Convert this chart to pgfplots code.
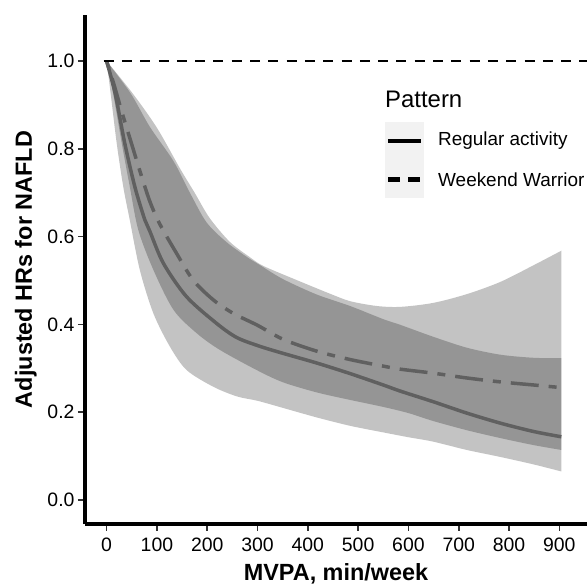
\documentclass[border=0pt]{standalone}
\usepackage{fontspec}
\setmainfont{Liberation Sans}
\usepackage{pgfplots}
\usepackage{pgfplotstable}
\pgfplotsset{compat=1.18}
\usepgfplotslibrary{fillbetween}
\definecolor{linegray}{RGB}{96,96,96}
\definecolor{keybg}{RGB}{242,242,242}
\begin{document}
% Regular activity: upper / lower CI and estimate
\pgfplotstableread{
x y
0 1.000
48 0.926
86 0.850
133 0.772
166 0.699
199 0.632
240 0.586
285 0.549
305 0.535
351 0.503
418 0.468
484 0.442
550 0.412
584 0.399
649 0.372
716 0.347
783 0.331
849 0.324
904 0.323
}\RU
\pgfplotstableread{
x y
0 1.000
8 0.926
20 0.813
33 0.714
46 0.638
66 0.524
93 0.425
126 0.349
159 0.296
212 0.258
259 0.236
300 0.226
350 0.210
418 0.188
484 0.169
550 0.154
600 0.143
649 0.133
716 0.114
783 0.098
849 0.081
904 0.065
}\RL
\pgfplotstableread{
x y
0 1.000
17 0.926
36 0.813
56 0.714
76 0.638
86 0.612
113 0.539
159 0.463
219 0.402
259 0.370
305 0.350
351 0.334
418 0.312
484 0.288
550 0.262
584 0.248
649 0.224
716 0.198
783 0.175
849 0.156
904 0.144
}\RE
% Weekend Warrior: upper / lower CI and estimate
\pgfplotstableread{
x y
0 1.000
52 0.926
100 0.848
146 0.755
175 0.700
205 0.642
245 0.588
285 0.553
312 0.533
378 0.501
444 0.470
484 0.453
537 0.442
584 0.440
649 0.449
716 0.469
783 0.497
849 0.535
904 0.568
}\WU
\pgfplotstableread{
x y
0 1.000
13 0.926
30 0.813
46 0.714
63 0.615
93 0.524
133 0.433
179 0.380
225 0.342
300 0.295
351 0.268
418 0.245
484 0.228
550 0.212
600 0.198
649 0.180
716 0.159
783 0.141
849 0.125
904 0.114
}\WL
\pgfplotstableread{
x y
0 1.000
15 0.945
30 0.885
50 0.810
66 0.750
86 0.680
106 0.628
139 0.562
172 0.501
212 0.456
252 0.425
300 0.398
351 0.366
418 0.339
484 0.320
550 0.305
584 0.298
649 0.289
716 0.278
783 0.269
849 0.262
904 0.256
}\WE
\begin{tikzpicture}
\begin{axis}[
  at={(0,0)}, anchor=south west,
  width=502bp, height=509bp, scale only axis,
  xmin=-43, xmax=955, ymin=-0.0547, ymax=1.105,
  axis x line=bottom, axis y line=left,
  axis line style={line width=4bp, -},
  xtick={0,100,200,300,400,500,600,700,800,900},
  ytick={0,0.2,0.4,0.6,0.8,1.0},
  minor tick num=0,
  tick align=outside,
  major tick length=7bp,
  tick style={line width=1.6bp, color=black!80},
  /pgf/number format/assume math mode=true,
  ticklabel style={font=\fontsize{19.5}{22}\selectfont, text=black},
  yticklabel style={/pgf/number format/.cd, fixed, fixed zerofill, precision=1},
  xticklabel style={yshift=-3bp, /pgf/number format/.cd, fixed, precision=0, 1000 sep={}},
  xlabel={MVPA, min/week},
  ylabel={Adjusted HRs for NAFLD},
  xlabel style={font=\bfseries\fontsize{23.5}{26}\selectfont, at={(axis description cs:0.5,0)}, anchor=base, yshift=-56bp},
  ylabel style={font=\bfseries\fontsize{23.5}{26}\selectfont, at={(axis description cs:0,0.5)}, anchor=base, yshift=53bp},
  clip=false,
]
\addplot[draw=none, name path=RU, smooth, tension=0.5] table {\RU};
\addplot[draw=none, name path=RL, smooth, tension=0.5] table {\RL};
\addplot[draw=none, name path=WU, smooth, tension=0.5] table {\WU};
\addplot[draw=none, name path=WL, smooth, tension=0.5] table {\WL};
\addplot[fill=black, fill opacity=0.235, draw=none] fill between[of=RU and RL];
\addplot[fill=black, fill opacity=0.235, draw=none] fill between[of=WU and WL];
\addplot[linegray, line width=3.5bp, smooth, tension=0.5] table {\RE};
\addplot[linegray, line width=3.5bp, smooth, tension=0.5, dash pattern=on 8bp off 10bp on 28bp off 10bp] table {\WE};
\addplot[black, line width=1.8bp, dash pattern=on 10bp off 8.3bp] coordinates {(-6,1) (955,1)};
\end{axis}
% legend (positions in bp relative to the axis box's lower left corner)
\node[anchor=base west, inner sep=0pt, font=\fontsize{24}{28}\selectfont] at (300bp,416bp) {Pattern};
\fill[keybg] (300bp,326bp) rectangle (339bp,402bp);
\draw[black, line width=4.5bp] (303bp,383bp) -- (336bp,383bp);
\draw[black, line width=4.5bp, dash pattern=on 11.5bp off 8.5bp] (303bp,344.7bp) -- (336bp,344.7bp);
\node[anchor=west, inner sep=0pt, font=\fontsize{19}{22}\selectfont] at (353bp,383bp) {Regular activity};
\node[anchor=west, inner sep=0pt, font=\fontsize{19}{22}\selectfont] at (353bp,344.7bp) {Weekend Warrior};
\pgfresetboundingbox
\path[use as bounding box] (-85bp,-60bp) rectangle (502bp,524bp);
\end{tikzpicture}
\end{document}
